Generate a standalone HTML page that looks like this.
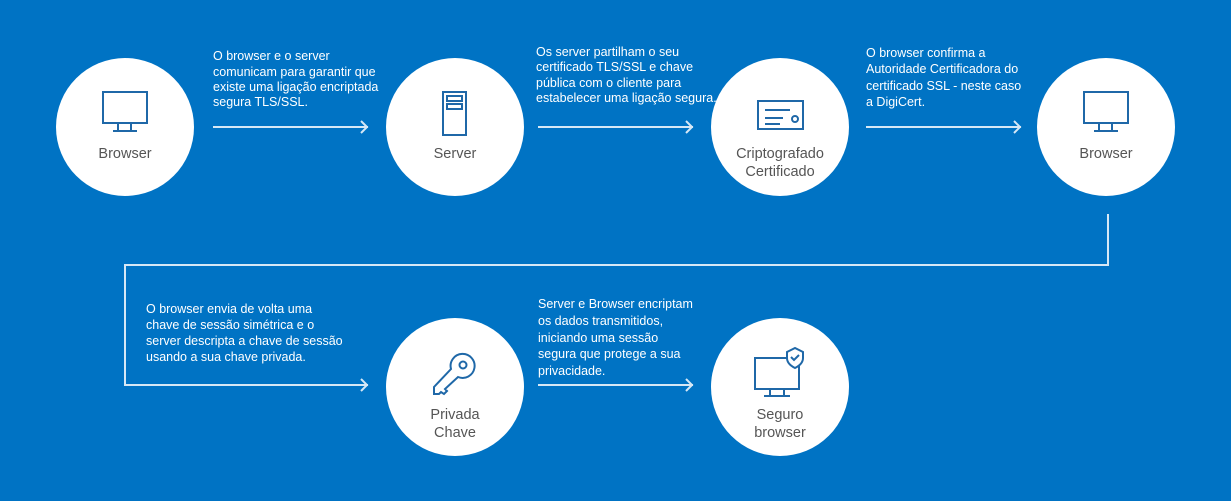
<!DOCTYPE html>
<html><head><meta charset="utf-8"><style>
html,body{margin:0;padding:0;background:#0073c4;}
svg{display:block}
.t{font-family:"Liberation Sans",sans-serif;font-size:12.5px;fill:#fff}
.l{font-family:"Liberation Sans",sans-serif;font-size:14.5px;fill:#555;text-anchor:middle}
.ic{fill:none;stroke:#1f68a8;stroke-width:2}
.ln{fill:none;stroke:#d6e8f6;stroke-width:2}
</style></head><body>
<svg width="1231" height="501" viewBox="0 0 1231 501">
<rect x="0" y="0" width="1231" height="501" fill="#0073c4"/>
<g fill="#fff">
<circle cx="125" cy="127" r="69"/>
<circle cx="455" cy="127" r="69"/>
<circle cx="780" cy="127" r="69"/>
<circle cx="1106" cy="127" r="69"/>
<circle cx="455" cy="387" r="69"/>
<circle cx="780" cy="387" r="69"/>
</g>
<g class="ln">
<path d="M213 127H368M361 121l6 6-6 6"/>
<path d="M538 127H693M686 121l6 6-6 6"/>
<path d="M866 127H1021M1014 121l6 6-6 6"/>
<path d="M1108 214V265H125V385H368M361 379l6 6-6 6"/>
<path d="M538 385H693M686 379l6 6-6 6"/>
</g>
<g class="ic">
<rect x="103" y="92" width="44" height="31"/>
<path d="M118 123v8M131 123v8M113 131h24"/>
<rect x="443" y="92" width="23" height="43"/>
<rect x="447" y="96" width="15" height="5"/><rect x="447" y="104" width="15" height="5"/>
<rect x="758" y="101" width="45" height="28"/>
<path d="M765 110h25M765 118h18M765 124h15"/><circle cx="795" cy="119" r="3"/>
<rect x="1084" y="92" width="44" height="31"/>
<path d="M1099 123v8M1112 123v8M1094 131h24"/>
<path d="M458 377A12 12 0 1 0 451 369L434 387V394L439 394L441 392L444 394L447 391L445 389Z"/>
<circle cx="463" cy="365" r="3.5"/>
<path d="M799 358h-44v31h44z" /><path d="M770 389v7M784 389v7M764 396h26"/>
<path d="M787 352l8-4 8 4v6c0 5-4 8-8 10-4-2-8-5-8-10z" fill="#fff"/><path d="M791 357l3 3 5-5"/>
</g>
<text class="l" x="125" y="158">Browser</text>
<text class="l" x="455" y="158">Server</text>
<text class="l" x="780" y="158">Criptografado</text>
<text class="l" x="780" y="176">Certificado</text>
<text class="l" x="1106" y="158">Browser</text>
<text class="l" x="455" y="419">Privada</text>
<text class="l" x="455" y="437">Chave</text>
<text class="l" x="780" y="419">Seguro</text>
<text class="l" x="780" y="437">browser</text>
<text class="t" x="213" y="60">O browser e o server</text>
<text class="t" x="213" y="76">comunicam para garantir que</text>
<text class="t" x="213" y="91">existe uma ligação encriptada</text>
<text class="t" x="213" y="106">segura TLS/SSL.</text>
<text class="t" x="536" y="56">Os server partilham o seu</text>
<text class="t" x="536" y="71">certificado TLS/SSL e chave</text>
<text class="t" x="536" y="87">pública com o cliente para</text>
<text class="t" x="536" y="102">estabelecer uma ligação segura.</text>
<text class="t" x="866" y="57">O browser confirma a</text>
<text class="t" x="866" y="73">Autoridade Certificadora do</text>
<text class="t" x="866" y="90">certificado SSL - neste caso</text>
<text class="t" x="866" y="106">a DigiCert.</text>
<text class="t" x="146" y="313">O browser envia de volta uma</text>
<text class="t" x="146" y="329">chave de sessão simétrica e o</text>
<text class="t" x="146" y="345">server descripta a chave de sessão</text>
<text class="t" x="146" y="361">usando a sua chave privada.</text>
<text class="t" x="538" y="308">Server e Browser encriptam</text>
<text class="t" x="538" y="325">os dados transmitidos,</text>
<text class="t" x="538" y="342">iniciando uma sessão</text>
<text class="t" x="538" y="358">segura que protege a sua</text>
<text class="t" x="538" y="375">privacidade.</text>
</svg>
</body></html>
